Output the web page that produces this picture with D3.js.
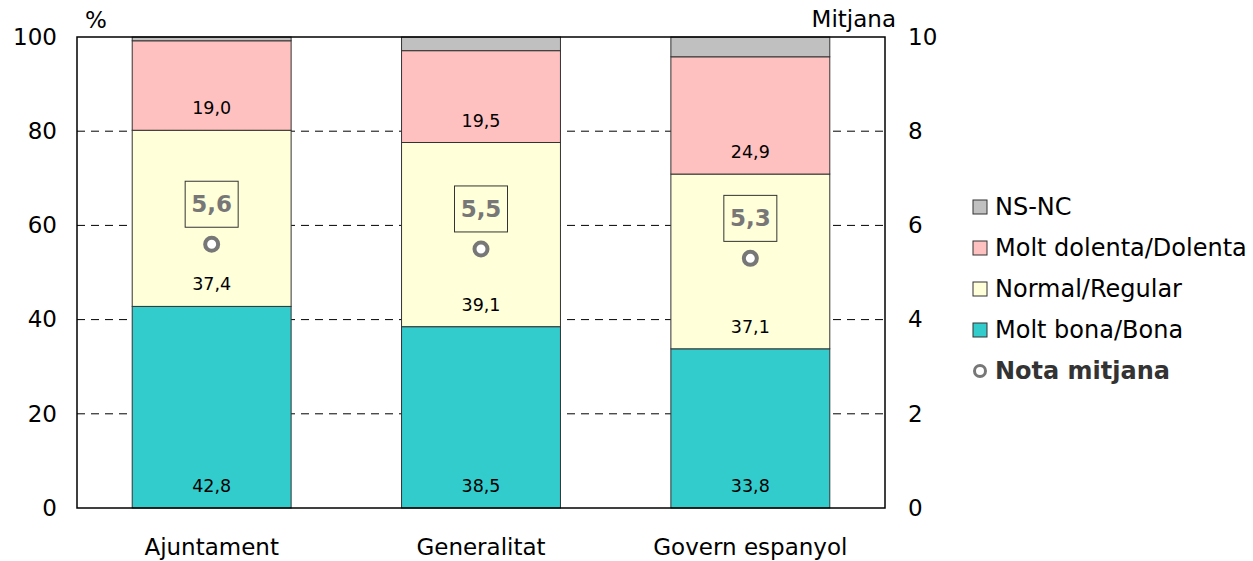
<!DOCTYPE html>
<html>
<head>
<meta charset="utf-8">
<script src="https://cdn.jsdelivr.net/npm/d3@7"></script>
<style>
  body { margin: 0; background: #fff; }
  svg { font-family: "DejaVu Sans", Verdana, sans-serif; }
</style>
</head>
<body>
<svg width="1253" height="561"></svg>
<script>
// chart data
const categories = ["Ajuntament", "Generalitat", "Govern espanyol"]
const bona = [42.8, 38.5, 33.8]
const normal = [37.4, 39.1, 37.1]
const dolenta = [19.0, 19.5, 24.9]
const nsnc = [0.8, 2.9, 4.2]
const mitjana = [5.6, 5.5, 5.3]
const leftTicks = [0, 20, 40, 60, 80, 100]
const rightTicks = [0, 2, 4, 6, 8, 10]

const series = [
  { name: "Molt bona/Bona", values: bona, color: "#33cccc", label: true },
  { name: "Normal/Regular", values: normal, color: "#ffffd9", label: true },
  { name: "Molt dolenta/Dolenta", values: dolenta, color: "#ffc0c0", label: true },
  { name: "NS-NC", values: nsnc, color: "#c0c0c0", label: false }
]

const fmt = v => d3.format(".1f")(v).replace(".", ",")

const svg = d3.select("svg")
const pLeft = 77, pRight = 885, pTop = 37, pBottom = 508
const bigFont = 23

const x = d3.scaleBand().domain(categories).range([pLeft, pRight]).paddingInner(0.41).paddingOuter(0.205)
const y = d3.scaleLinear().domain([0, 100]).range([pBottom, pTop])
const y2 = d3.scaleLinear().domain([0, 10]).range([pBottom, pTop])

// dashed gridlines
svg.append("g").selectAll("line")
  .data(leftTicks.filter(d => d > 0 && d < 100))
  .enter().append("line")
  .attr("x1", pLeft).attr("x2", pRight)
  .attr("y1", d => y(d)).attr("y2", d => y(d))
  .attr("stroke", "#000").attr("stroke-width", 1)
  .attr("stroke-dasharray", "8,6")

// stacked bars
const stacked = categories.map((c, i) => {
  let acc = 0
  return series.map(s => {
    const seg = { cat: c, y0: acc, y1: acc + s.values[i], v: s.values[i], color: s.color, label: s.label }
    acc += s.values[i]
    return seg
  })
})

const barG = svg.append("g")
stacked.forEach(segs => {
  barG.selectAll(null).data(segs).enter().append("rect")
    .attr("x", d => x(d.cat))
    .attr("width", x.bandwidth())
    .attr("y", d => y(Math.min(d.y1, 100)))
    .attr("height", d => y(d.y0) - y(Math.min(d.y1, 100)))
    .attr("fill", d => d.color)
    .attr("stroke", "#333")
    .attr("stroke-width", 1)
  barG.selectAll(null).data(segs.filter(d => d.label)).enter().append("text")
    .attr("x", d => x(d.cat) + x.bandwidth() / 2)
    .attr("y", d => y(d.y0) - 16)
    .attr("text-anchor", "middle")
    .attr("font-size", 17.5)
    .attr("fill", "#000")
    .text(d => fmt(d.v))
})

// frame
svg.append("rect")
  .attr("x", pLeft).attr("y", pTop)
  .attr("width", pRight - pLeft).attr("height", pBottom - pTop)
  .attr("fill", "none").attr("stroke", "#000").attr("stroke-width", 1.5)

// axes
const yAxisL = d3.axisLeft(y).tickValues(leftTicks).tickSize(0).tickPadding(20)
const gL = svg.append("g").attr("transform", `translate(${pLeft},0)`).call(yAxisL)
const yAxisR = d3.axisRight(y2).tickValues(rightTicks).tickSize(0).tickPadding(23)
const gR = svg.append("g").attr("transform", `translate(${pRight},0)`).call(yAxisR)
const xAxis = d3.axisBottom(x).tickSize(0).tickPadding(31)
const gX = svg.append("g").attr("transform", `translate(0,${pBottom})`).call(xAxis)
;[gL, gR, gX].forEach(g => {
  g.select(".domain").remove()
  g.selectAll("text").attr("font-size", bigFont).attr("fill", "#000")
    .style("font-family", "'DejaVu Sans', Verdana, sans-serif")
})

svg.append("text").attr("x", 85).attr("y", 28).attr("font-size", bigFont).text("%")
svg.append("text").attr("x", 896).attr("y", 27).attr("font-size", bigFont)
  .attr("text-anchor", "end").text("Mitjana")

// mean markers
const meanG = svg.append("g")
categories.forEach((c, i) => {
  const cx = x(c) + x.bandwidth() / 2
  const cy = y2(mitjana[i])
  meanG.append("circle")
    .attr("cx", cx).attr("cy", cy).attr("r", 6.5)
    .attr("fill", "#fff").attr("stroke", "#777").attr("stroke-width", 4)
  meanG.append("rect")
    .attr("x", cx - 26.5).attr("y", cy - 63)
    .attr("width", 53).attr("height", 46)
    .attr("fill", "none").attr("stroke", "#333").attr("stroke-width", 1)
  meanG.append("text")
    .attr("x", cx).attr("y", cy - 32)
    .attr("text-anchor", "middle")
    .attr("font-size", 23).attr("font-weight", "bold").attr("fill", "#777")
    .text(fmt(mitjana[i]))
})

// legend
const legendItems = series.slice().reverse()
const lg = svg.append("g").attr("transform", "translate(973,0)")
legendItems.forEach((s, i) => {
  const ly = 207 + i * 41
  lg.append("rect").attr("x", 0).attr("y", ly - 7).attr("width", 14).attr("height", 14)
    .attr("fill", s.color).attr("stroke", "#333").attr("stroke-width", 1)
  lg.append("text").attr("x", 22).attr("y", ly + 8).attr("font-size", 24).text(s.name)
})
const ly = 207 + 4 * 41
lg.append("circle").attr("cx", 7).attr("cy", ly).attr("r", 5.5)
  .attr("fill", "#fff").attr("stroke", "#777").attr("stroke-width", 3)
lg.append("text").attr("x", 22).attr("y", ly + 8).attr("font-size", 24)
  .attr("font-weight", "bold").attr("fill", "#333").text("Nota mitjana")
</script>
</body>
</html>
